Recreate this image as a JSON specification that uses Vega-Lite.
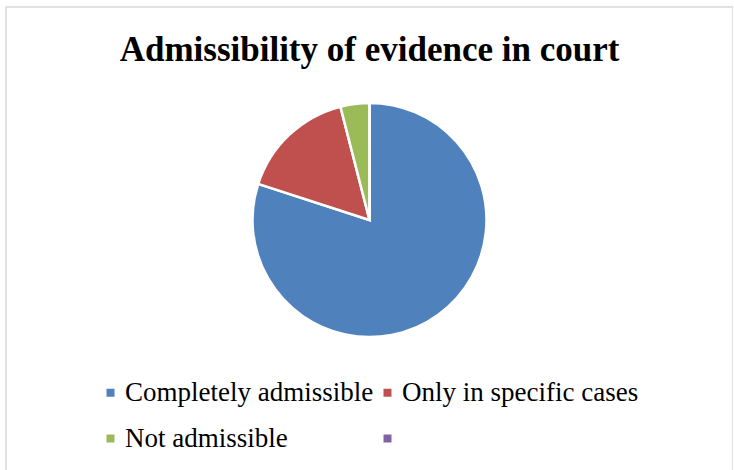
{
  "$schema": "https://vega.github.io/schema/vega-lite/v6.json",
  "autosize": "none",
  "padding": {"left": 6, "top": 7, "right": 0, "bottom": 0},
  "width": 727,
  "height": 470,
  "background": "white",
  "title": {
    "text": "Admissibility of evidence in court",
    "font": "Liberation Serif",
    "fontSize": 35,
    "fontWeight": "bold",
    "color": "black",
    "anchor": "middle",
    "offset": -62
  },
  "layer": [
    {
      "data": {"values": [{"frame": 1}]},
      "mark": {"type": "rect", "fill": null, "fillOpacity": 0, "stroke": "#d9d9d9", "strokeWidth": 1.5},
      "encoding": {}
    },
    {
      "data": {
        "values": [
          {"category": "Completely admissible", "share": 80, "order": 1},
          {"category": "Only in specific cases", "share": 16, "order": 2},
          {"category": "Not admissible", "share": 4, "order": 3},
          {"category": " ", "share": 0, "order": 4}
        ]
      },
      "mark": {"type": "arc", "outerRadius": 117, "stroke": "white", "strokeWidth": 2.5, "yOffset": -22},
      "encoding": {
        "theta": {"field": "share", "type": "quantitative", "stack": true},
        "order": {"field": "order", "type": "quantitative"},
        "color": {
          "field": "category",
          "type": "nominal",
          "scale": {
            "domain": ["Completely admissible", "Only in specific cases", "Not admissible", " "],
            "range": ["#4F81BD", "#C0504D", "#9BBB59", "#8064A2"]
          },
          "legend": {
            "title": null,
            "orient": "none",
            "legendX": 91,
            "legendY": 372,
            "direction": "horizontal",
            "columns": 2,
            "symbolType": "square",
            "symbolSize": 64,
            "symbolStrokeWidth": 0,
            "labelFont": "Liberation Serif",
            "labelFontSize": 27,
            "labelColor": "black",
            "labelOffset": 1,
            "labelLimit": 400,
            "columnPadding": -3,
            "rowPadding": 18
          }
        }
      }
    }
  ]
}
